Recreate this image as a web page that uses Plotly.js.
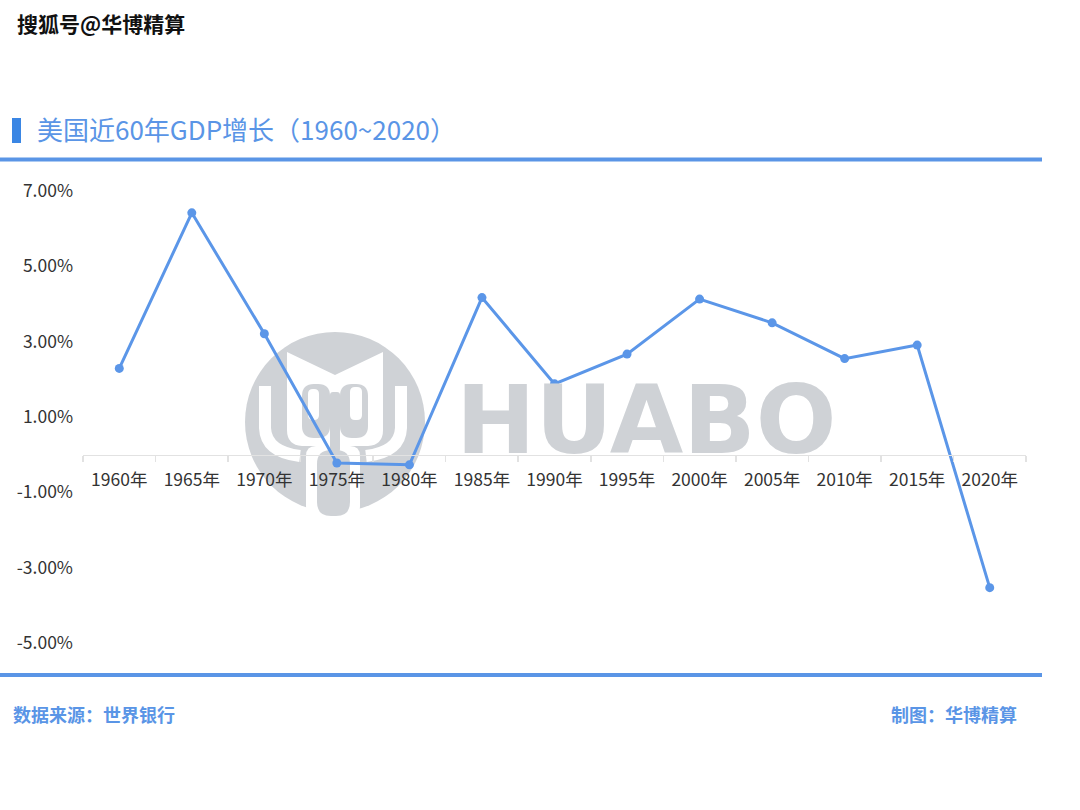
<!DOCTYPE html>
<html>
<head>
<meta charset="utf-8">
<script src="https://cdn.plot.ly/plotly-3.0.1.min.js"></script>
<style>
  html, body { margin: 0; padding: 0; background: #ffffff; }
  #chart { width: 1080px; height: 810px; }
</style>
</head>
<body>
<div id="chart"></div>
<script>
// ---------- data ----------
const years = ['1960年', '1965年', '1970年', '1975年', '1980年', '1985年', '1990年',
               '1995年', '2000年', '2005年', '2010年', '2015年', '2020年'];
const gdpGrowth = [2.29, 6.42, 3.21, -0.22, -0.27, 4.17, 1.88, 2.67, 4.13, 3.50, 2.55, 2.91, -3.53];
const yTickVals = [-5, -3, -1, 1, 3, 5, 7];
const yTickText = ['-5.00%', '-3.00%', '-1.00%', '1.00%', '3.00%', '5.00%', '7.00%'];

const titleText = '美国近60年GDP增长（1960~2020）';
const sourceText = '数据来源：世界银行';
const makerText = '制图：华博精算';
const topMark = '搜狐号@华博精算';
const logoText = 'HUABO';

// ---------- layout helpers (pixel -> paper) ----------
const W = 1080, H = 810;
const M = { l: 83, r: 54, t: 191, b: 167 };
const PW = W - M.l - M.r, PH = H - M.t - M.b;
const px = X => (X - M.l) / PW;
const py = Y => (H - M.b - Y) / PH;
const pathOf = pts => pts.map((p, i) => (i === 0 ? 'M ' : (p.length === 4 ? 'Q ' : 'L ')) +
  (p.length === 4 ? px(p[0]) + ',' + py(p[1]) + ' ' + px(p[2]) + ',' + py(p[3])
                  : px(p[0]) + ',' + py(p[1]))).join(' ');

const blue = '#5b96e8';
const titleBlue = '#5a95e6';
const wmGray = '#cfd2d6';
const white = '#ffffff';
const CJK = '"Noto Sans CJK SC", "Noto Sans", sans-serif';

function fillShape(pts, color) {
  return { type: 'path', xref: 'paper', yref: 'paper', layer: 'below',
           path: pathOf(pts) + ' Z', fillcolor: color, line: { width: 0 } };
}
function strokeShape(pts, color, w) {
  return { type: 'path', xref: 'paper', yref: 'paper', layer: 'below',
           path: pathOf(pts), line: { color: color, width: w } };
}
function rrect(x0, y0, x1, y1, r) {
  return [[x0, y0 + r], [x0, y0, x0 + r, y0], [x1 - r, y0], [x1, y0, x1, y0 + r],
          [x1, y1 - r], [x1, y1, x1 - r, y1], [x0 + r, y1], [x0, y1, x0, y1 - r]];
}

const shapes = [
  // title marker bar
  { type: 'rect', xref: 'paper', yref: 'paper', x0: px(12), x1: px(21), y0: py(143), y1: py(118),
    fillcolor: '#3a86e4', line: { width: 0 } },
  // top rule
  { type: 'line', xref: 'paper', yref: 'paper', x0: px(0), x1: px(1042), y0: py(159.5), y1: py(159.5),
    line: { color: titleBlue, width: 4 } },
  // bottom rule
  { type: 'line', xref: 'paper', yref: 'paper', x0: px(0), x1: px(1042), y0: py(675), y1: py(675),
    line: { color: titleBlue, width: 4 } },
  // watermark logo: circle
  { type: 'circle', xref: 'paper', yref: 'paper', layer: 'below',
    x0: px(245), x1: px(425), y0: py(512), y1: py(332), fillcolor: wmGray, line: { width: 0 } },
  // outer white arms
  strokeShape([[265, 386], [265, 428], [266, 452, 300, 456]], white, 12),
  strokeShape([[401, 386], [401, 428], [400, 452, 366, 456]], white, 12),
  // white ring around the stem
  fillShape(rrect(306, 446, 360, 516, 10), white),
  // gray stem
  fillShape(rrect(317, 450, 350, 516, 14), wmGray),
  // white tulip
  fillShape([[287, 352], [335, 375], [383, 352], [383, 430], [383, 445, 368, 446],
             [302, 446], [287, 445, 287, 430]], white),
  // gray pockets and centre stem
  fillShape(rrect(302, 384, 330, 438, 12), wmGray),
  fillShape(rrect(340, 384, 368, 438, 12), wmGray),
  fillShape(rrect(330, 392, 340, 452, 3), wmGray),
  // inner white ovals
  fillShape(rrect(308, 389, 319, 420, 5), white),
  fillShape(rrect(350, 387, 362, 420, 5), white)
];

const annotations = [
  { xref: 'paper', yref: 'paper', x: px(646), y: py(420), xanchor: 'center', yanchor: 'middle',
    text: '<b>' + logoText + '</b>', showarrow: false, height: 76, valign: 'middle',
    font: { family: '"DejaVu Sans", sans-serif', size: 95, color: wmGray } },
  { xref: 'paper', yref: 'paper', x: px(11), y: py(714), xanchor: 'left', yanchor: 'middle',
    text: '<b>' + sourceText + '</b>', showarrow: false,
    font: { family: CJK, size: 18, color: titleBlue } },
  { xref: 'paper', yref: 'paper', x: px(1019), y: py(714), xanchor: 'right', yanchor: 'middle',
    text: '<b>' + makerText + '</b>', showarrow: false,
    font: { family: CJK, size: 18, color: titleBlue } },
  { xref: 'paper', yref: 'paper', x: px(15), y: py(23), xanchor: 'left', yanchor: 'middle',
    text: '<b>' + topMark + '</b>', showarrow: false,
    font: { family: CJK, size: 21, color: '#111111', shadow: '1px 1px 1px #ffffff, -1px -1px 1px #ffffff' } }
];

const trace = {
  type: 'scatter',
  mode: 'lines+markers',
  x: years,
  y: gdpGrowth,
  line: { color: blue, width: 3 },
  marker: { color: blue, size: 9 },
  cliponaxis: false,
  hoverinfo: 'x+y'
};

const layout = {
  width: W, height: H,
  margin: M,
  paper_bgcolor: '#ffffff',
  plot_bgcolor: 'rgba(0,0,0,0)',
  showlegend: false,
  title: {
    text: titleText,
    x: 37 / W, xanchor: 'left', xref: 'container',
    y: 1 - 131 / H, yanchor: 'middle', yref: 'container',
    font: { family: CJK, size: 26, color: titleBlue }
  },
  xaxis: {
    type: 'category',
    range: [-0.5, years.length - 0.5],
    anchor: 'free',
    position: (0 - (-5)) / 12,
    showline: true, linecolor: '#e2e2e2', linewidth: 1.5,
    ticks: 'outside', tickson: 'boundaries', ticklen: 6, tickcolor: '#e2e2e2', tickwidth: 1.5,
    ticklabelstandoff: 9,
    showgrid: false, zeroline: false,
    tickfont: { family: CJK, size: 17.5, color: '#333333' },
    fixedrange: true
  },
  yaxis: {
    range: [-5, 7],
    tickvals: yTickVals,
    ticktext: yTickText,
    showline: false, showgrid: false, zeroline: false,
    ticks: '',
    ticklabelstandoff: 9,
    tickfont: { family: CJK, size: 17.5, color: '#333333' },
    fixedrange: true
  },
  shapes: shapes,
  annotations: annotations
};

Plotly.newPlot('chart', [trace], layout, { displayModeBar: false, staticPlot: true });
</script>
</body>
</html>
